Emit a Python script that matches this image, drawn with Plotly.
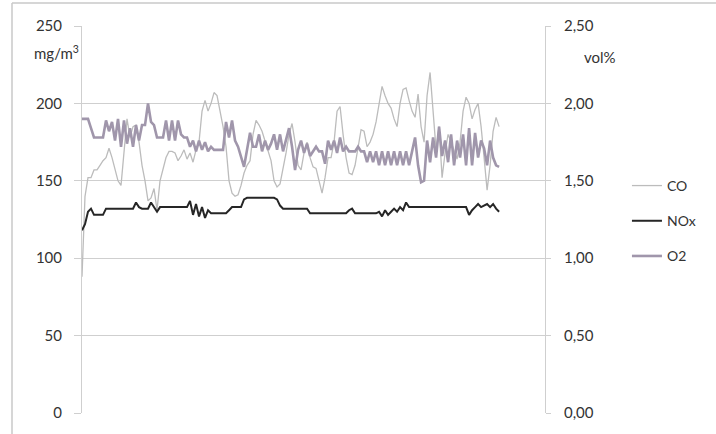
import plotly.graph_objects as go

# sample index (time steps)
n_samples = 140
t = list(range(n_samples))

co = [88, 140, 152, 152, 157, 157, 160, 163, 165, 171, 165, 158, 150, 147, 170, 190, 178, 185, 186, 175,
      160, 150, 137, 139, 145, 131, 150, 158, 165, 169, 169, 168, 163, 166, 170, 164, 168, 162, 170, 175,
      195, 202, 195, 200, 207, 205, 195, 185, 172, 150, 142, 140, 141, 147, 155, 160, 163, 180, 189, 186,
      182, 176, 170, 163, 150, 146, 148, 157, 168, 180, 187, 175, 160, 157, 168, 175, 165, 159, 158, 150,
      142, 152, 165, 165, 175, 195, 198, 180, 165, 155, 154, 160, 172, 183, 182, 172, 175, 180, 188, 200,
      211, 205, 200, 197, 190, 185, 200, 209, 210, 202, 195, 191, 206, 185, 175, 205, 220, 195, 170, 185,
      152, 168, 180, 175, 170, 164, 175, 195, 204, 200, 190, 196, 200, 185, 165, 144, 160, 182, 191, 185]

nox = [118, 122, 130, 132, 128, 128, 128, 128, 132, 132, 132, 132, 132, 132, 132, 132, 132, 132, 136, 133,
       132, 132, 132, 136, 133, 130, 133, 133, 133, 133, 133, 133, 133, 133, 133, 133, 137, 128, 135, 127,
       133, 126, 131, 129, 129, 129, 129, 129, 129, 131, 133, 133, 133, 133, 138, 139, 139, 139, 139, 139,
       139, 139, 139, 139, 139, 138, 134, 132, 132, 132, 132, 132, 132, 132, 132, 132, 129, 129, 129, 129,
       129, 129, 129, 129, 129, 129, 129, 129, 129, 131, 132, 129, 129, 129, 129, 129, 129, 129, 129, 130,
       127, 131, 128, 130, 132, 130, 133, 131, 136, 133, 133, 133, 133, 133, 133, 133, 133, 133, 133, 133,
       133, 133, 133, 133, 133, 133, 133, 133, 133, 128, 131, 133, 135, 133, 134, 135, 133, 135, 132, 130]

o2 = [1.90, 1.90, 1.90, 1.84, 1.78, 1.78, 1.78, 1.78, 1.89, 1.82, 1.88, 1.76, 1.90, 1.72, 1.89, 1.74, 1.84, 1.72, 1.86, 1.76,
      1.86, 1.86, 2.00, 1.88, 1.86, 1.78, 1.78, 1.78, 1.89, 1.76, 1.89, 1.76, 1.89, 1.80, 1.78, 1.78, 1.72, 1.76, 1.69, 1.76,
      1.70, 1.75, 1.69, 1.72, 1.70, 1.70, 1.70, 1.70, 1.88, 1.78, 1.89, 1.76, 1.72, 1.65, 1.59, 1.70, 1.81, 1.72, 1.72, 1.80,
      1.69, 1.76, 1.70, 1.74, 1.80, 1.70, 1.80, 1.69, 1.76, 1.84, 1.72, 1.57, 1.70, 1.76, 1.68, 1.74, 1.66, 1.69, 1.72, 1.69,
      1.69, 1.61, 1.76, 1.70, 1.76, 1.68, 1.78, 1.69, 1.72, 1.69, 1.69, 1.69, 1.72, 1.69, 1.69, 1.62, 1.69, 1.62, 1.69, 1.60,
      1.69, 1.60, 1.69, 1.60, 1.69, 1.60, 1.69, 1.60, 1.69, 1.60, 1.69, 1.78, 1.60, 1.49, 1.50, 1.76, 1.62, 1.78, 1.65, 1.85,
      1.66, 1.76, 1.62, 1.80, 1.60, 1.76, 1.65, 1.80, 1.60, 1.84, 1.60, 1.81, 1.65, 1.76, 1.71, 1.60, 1.76, 1.65, 1.60, 1.59]

left_ticks = [0, 50, 100, 150, 200, 250]
right_ticks = [0, 0.5, 1.0, 1.5, 2.0, 2.5]

FONT = "Lato"
TXT = "#333333"
GRID = "#cfcfcf"
FS = 15

fig = go.Figure()
fig.add_trace(go.Scatter(x=t, y=co, name="CO", mode="lines", legendgroup="a",
                         line=dict(color="#bcbcbc", width=1.3)))
fig.add_trace(go.Scatter(x=t, y=nox, name="NOx", mode="lines", legendgroup="b",
                         line=dict(color="#262626", width=2)))
fig.add_trace(go.Scatter(x=t, y=o2, name="O2", mode="lines", legendgroup="c", yaxis="y2",
                         line=dict(color="#a096ab", width=2.6)))

fig.update_layout(
    width=716, height=434,
    margin=dict(l=82, r=171, t=26, b=21),
    paper_bgcolor="white", plot_bgcolor="white",
    separators=",.",
    font=dict(family=FONT, size=FS, color=TXT),
    xaxis=dict(range=[0, 154.3], showgrid=False, zeroline=False, showticklabels=False,
               showline=False),
    yaxis=dict(range=[0, 250], tickvals=left_ticks, showgrid=True, gridcolor=GRID, gridwidth=1,
               zeroline=False, showline=True, linecolor=GRID, ticks="outside", ticklen=7,
               tickcolor=GRID, ticklabelstandoff=9, tickfont=dict(size=FS, color=TXT)),
    yaxis2=dict(range=[0, 2.5], tickvals=right_ticks, tickformat=".2f", overlaying="y", side="right",
                showgrid=False, zeroline=False, showline=True, linecolor=GRID, ticks="outside",
                ticklen=5, tickcolor=GRID, ticklabelstandoff=10, tickfont=dict(size=FS, color=TXT)),
    legend=dict(x=1.177, y=0.628, xanchor="left", yanchor="top", bgcolor="rgba(0,0,0,0)",
                font=dict(size=FS - 1, color=TXT), tracegroupgap=14, itemwidth=30),
    showlegend=True,
)

fig.add_annotation(text="mg/m<sup>3</sup>", xref="paper", yref="paper", x=-0.108, y=(413 - 52) / 387,
                   xanchor="left", yanchor="middle", showarrow=False, font=dict(size=FS, color=TXT))
fig.add_annotation(text="vol%", xref="paper", yref="paper", x=(582 - 82) / 463, y=(413 - 57) / 387,
                   xanchor="left", yanchor="middle", showarrow=False, font=dict(size=FS, color=TXT))

# chart frame (left and top edges)
fig.add_shape(type="line", xref="paper", yref="paper", x0=(12 - 82) / 463, x1=(12 - 82) / 463,
              y0=(413 - 440) / 387, y1=(413 - 3) / 387, line=dict(color="#c8c8c8", width=1.5))
fig.add_shape(type="line", xref="paper", yref="paper", x0=(12 - 82) / 463, x1=(720 - 82) / 463,
              y0=(413 - 3) / 387, y1=(413 - 3) / 387, line=dict(color="#c8c8c8", width=1.5))

fig.write_html("out.html")
